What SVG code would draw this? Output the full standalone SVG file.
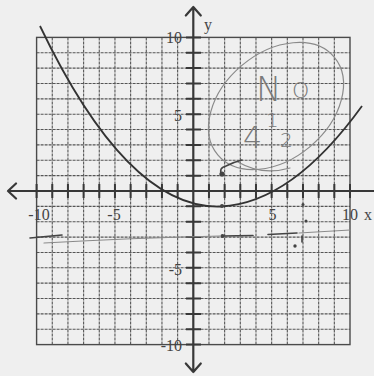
<svg xmlns="http://www.w3.org/2000/svg" width="374" height="376" viewBox="0 0 374 376">
<style>
.grid{fill:none;stroke:#555;stroke-width:1.1;stroke-dasharray:3 1}
.border{fill:none;stroke:#4a4a4a;stroke-width:1.4}
.axis{fill:none;stroke:#383838;stroke-width:2.2;stroke-linecap:round;stroke-linejoin:round}
.tick{fill:none;stroke:#383838;stroke-width:2}
.lbl{font-family:"Liberation Serif",serif;font-size:16px;fill:#444}
.curve{fill:none;stroke:#333;stroke-width:1.8}
.pencil{fill:none;stroke:#8a8a8a;stroke-width:1.2;stroke-linecap:round}
.hand{font-family:"DejaVu Sans",sans-serif;font-weight:200;fill:#7a7a7a}
.ink{fill:none;stroke:#444;stroke-width:1.6;stroke-linecap:round}
</style>
<rect width="374" height="376" fill="#efefef"/>
<g id="grid">
<path class="grid" d="M52.27,37.4V344.6M67.94,37.4V344.6M83.61,37.4V344.6M99.28,37.4V344.6M114.95,37.4V344.6M130.62,37.4V344.6M146.29,37.4V344.6M161.96,37.4V344.6M177.63,37.4V344.6M208.97,37.4V344.6M224.64,37.4V344.6M240.31,37.4V344.6M255.98,37.4V344.6M271.65,37.4V344.6M287.32,37.4V344.6M302.99,37.4V344.6M318.66,37.4V344.6M334.33,37.4V344.6"/>
<path class="grid" d="M36.6,52.76H350M36.6,68.12H350M36.6,83.48H350M36.6,98.84H350M36.6,114.2H350M36.6,129.56H350M36.6,144.92H350M36.6,160.28H350M36.6,175.64H350M36.6,206.36H350M36.6,221.72H350M36.6,237.08H350M36.6,252.44H350M36.6,267.8H350M36.6,283.16H350M36.6,298.52H350M36.6,313.88H350M36.6,329.24H350"/>
<rect class="border" x="36.6" y="37.4" width="313.4" height="307.2"/>
</g>
<g id="axes">
<path class="axis" d="M8,191H374M16,183.5L8,191L16,198.5"/>
<path class="axis" d="M193.3,7V372M185.8,15.5L193.3,7L200.8,15.5M185.8,363.5L193.3,372L200.8,363.5"/>
<path class="tick" d="M36.6,184V198M52.27,184V198M67.94,184V198M83.61,184V198M99.28,184V198M114.95,184V198M130.62,184V198M146.29,184V198M161.96,184V198M177.63,184V198M208.97,184V198M224.64,184V198M240.31,184V198M255.98,184V198M271.65,184V198M287.32,184V198M302.99,184V198M318.66,184V198M334.33,184V198M350,184V198"/>
<path class="tick" d="M186,37.4H201M186,52.76H201M186,68.12H201M186,83.48H201M186,98.84H201M186,114.2H201M186,129.56H201M186,144.92H201M186,160.28H201M186,175.64H201M186,206.36H201M186,221.72H201M186,237.08H201M186,252.44H201M186,267.8H201M186,283.16H201M186,298.52H201M186,313.88H201M186,329.24H201M186,344.6H201"/>
</g>
<g id="labels">
<text class="lbl" x="182" y="43" text-anchor="end">10</text>
<text class="lbl" x="182" y="121" text-anchor="end">5</text>
<text class="lbl" x="182" y="275" text-anchor="end">-5</text>
<text class="lbl" x="182" y="351" text-anchor="end">-10</text>
<text class="lbl" x="39" y="220" text-anchor="middle">-10</text>
<text class="lbl" x="114" y="220" text-anchor="middle">-5</text>
<text class="lbl" x="272.5" y="220" text-anchor="middle">5</text>
<text class="lbl" x="350" y="220" text-anchor="middle">10</text>
<text class="lbl" x="364" y="220">x</text>
<text class="lbl" x="204" y="30">y</text>
</g>
<g id="parabola">
<path class="curve" d="M40,26Q128,210 221,206.5Q292,203 362,106"/>
</g>
<g id="notes">
<ellipse class="pencil" cx="276" cy="106" rx="76" ry="53" transform="rotate(-40 276 106)"/>
<path class="pencil" d="M238,162Q262,176 290,168"/>
<text class="hand" x="256" y="101" font-size="34">N</text>
<text class="hand" x="292" y="98" font-size="22">O</text>
<text class="hand" x="266" y="127" font-size="20">1</text>
<text class="hand" x="243" y="148" font-size="30">4</text>
<text class="hand" x="280" y="147" font-size="20">2</text>
<path class="ink" d="M222,175Q218,168 226,166Q234,162 242,160"/>
<circle cx="222" cy="174" r="2.6" fill="#444"/>
<circle cx="222" cy="206" r="2" fill="#444"/>
<circle cx="222.5" cy="236" r="2" fill="#444"/>
<circle cx="303" cy="204.5" r="1.5" fill="#444"/>
<circle cx="306" cy="221" r="1.5" fill="#444"/>
<circle cx="295" cy="246" r="1.7" fill="#444"/>
<path class="ink" d="M302,236V242M30,238L62,235M222,236L253,235.5M268,234.5L297,233"/>
<path class="pencil" d="M44,243Q130,238 220,236M299,233L350,230"/>
</g>
</svg>
